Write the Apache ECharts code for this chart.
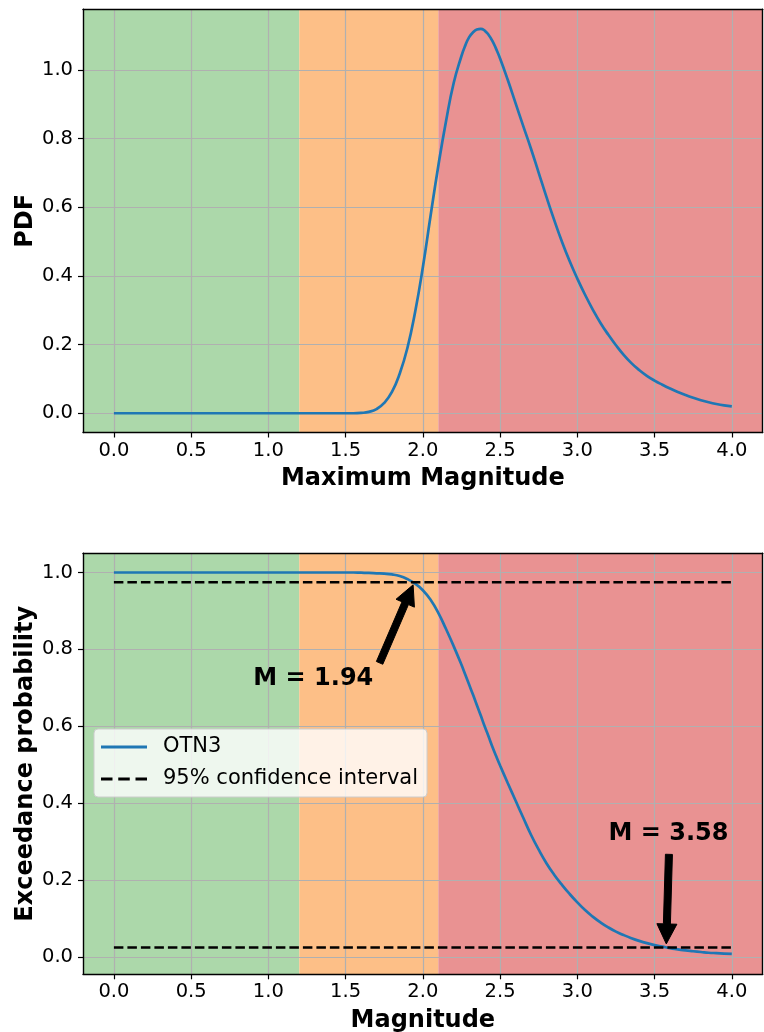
<!DOCTYPE html>
<html><head><meta charset="utf-8">
<script src="https://cdn.jsdelivr.net/npm/echarts@6/dist/echarts.min.js"></script>
<style>html,body{margin:0;padding:0;background:#fff}#c{width:764px;height:1032px}</style>
</head><body><div id="c"></div><script>
// ---- data ----
const magnitudes = [0.00,0.05,0.10,0.15,0.20,0.25,0.30,0.35,0.40,0.45,0.50,0.55,0.60,0.65,0.70,0.75,0.80,0.85,0.90,0.95,
  1.00,1.05,1.10,1.15,1.20,1.25,1.30,1.35,1.40,1.45,1.50,1.55,1.60,1.65,1.70,1.75,1.80,1.85,1.90,1.95,
  2.00,2.05,2.10,2.15,2.20,2.25,2.275,2.30,2.325,2.35,2.375,2.40,2.425,2.45,2.475,2.50,2.55,2.60,2.65,2.70,2.75,2.80,2.85,2.90,2.95,
  3.00,3.05,3.10,3.15,3.20,3.25,3.30,3.35,3.40,3.45,3.50,3.55,3.60,3.65,3.70,3.75,3.80,3.85,3.90,3.95,4.00];
const pdfValues = [0,0,0,0,0,0,0,0,0,0,0,0,0,0,0,0,0,0,0,0,
  0,0,0,0,0,0,0,0,0,0,0,0,0.001,0.004,0.012,0.03,0.062,0.115,0.19,0.295,
  0.425,0.575,0.72,0.85,0.962,1.04,1.071,1.095,1.109,1.117,1.119,1.114,1.102,1.084,1.060,1.033,0.97,0.903,0.836,0.77,0.70,0.63,0.563,0.50,0.443,
  0.392,0.345,0.302,0.263,0.229,0.198,0.170,0.146,0.126,0.109,0.095,0.083,0.072,0.062,0.053,0.045,0.038,0.032,0.027,0.023,0.020];
const exceedanceValues = [1,1,1,1,1,1,1,1,1,1,1,1,1,1,1,1,1,1,1,1,
  1,1,1,1,1,1,1,1,1,1,1,1,0.9995,0.999,0.998,0.997,0.995,0.991,0.983,0.971,
  0.954,0.929,0.895,0.853,0.808,0.76,0.734,0.708,0.682,0.655,0.628,0.600,0.574,0.547,0.522,0.498,0.452,0.407,0.362,0.318,0.279,0.244,0.214,0.188,0.164,
  0.142,0.122,0.105,0.090,0.077,0.066,0.057,0.049,0.042,0.036,0.031,0.027,0.023,0.020,0.017,0.015,0.013,0.011,0.010,0.009,0.008];
const xTicks = [0,0.5,1,1.5,2,2.5,3,3.5,4];
const pdfTicks = [0,0.2,0.4,0.6,0.8,1.0];
const probTicks = [0,0.2,0.4,0.6,0.8,1.0];
const zoneEdges = [-0.2,1.2,2.1,4.2];
const zoneColors = ['#acd8aa','#fdbf87','#e99292'];
const ciLevels = [0.975,0.025];
const ciRange = [0,4];
const annotLabels = ['M = 1.94','M = 3.58'];
const annotPoints = [[1.94,0.975],[3.58,0.025]];

// ---- chart ----
const F = '"DejaVu Sans", sans-serif';
const chart = echarts.init(document.getElementById('c'), null, {renderer:'canvas'});
const pdfData = magnitudes.map((m,i)=>[m,pdfValues[i]]);
const excData = magnitudes.map((m,i)=>[m,exceedanceValues[i]]);
const zones = zoneColors.map((c,i)=>[{xAxis:zoneEdges[i], itemStyle:{color:c, opacity:1}},{xAxis:zoneEdges[i+1]}]);
const XMIN=-0.2, XMAX=4.2;
const Y1=[-0.056,1.176], Y2=[-0.045,1.05];

function mainX(gi,name){return {type:'value',gridIndex:gi,min:XMIN,max:XMAX,name:name,nameLocation:'middle',nameGap:34,nameMoveOverlap:false,
  nameTextStyle:{fontFamily:F,fontWeight:'bold',fontSize:24,color:'#000'},
  axisLine:{show:true,onZero:false,lineStyle:{color:'#000',width:1.4}},
  axisTick:{show:true,length:5,customValues:xTicks,lineStyle:{color:'#000',width:1.2}},
  axisLabel:{customValues:xTicks,formatter:v=>v.toFixed(1),fontFamily:F,fontSize:19.5,color:'#000',margin:8},
  splitLine:{show:true,lineStyle:{color:'#b0b0b0',width:1.2}},z:5};}
function frameX(gi){return {type:'value',gridIndex:gi,min:XMIN,max:XMAX,position:'top',
  axisLine:{show:true,onZero:false,lineStyle:{color:'#000',width:1.4}},axisTick:{show:false},axisLabel:{show:false},splitLine:{show:false},z:5};}
function mainY(gi,name,ext,ticks){return {type:'value',gridIndex:gi,min:ext[0],max:ext[1],name:name,nameLocation:'middle',nameGap:45,nameMoveOverlap:false,
  nameTextStyle:{fontFamily:F,fontWeight:'bold',fontSize:24,color:'#000'},
  axisLine:{show:true,onZero:false,lineStyle:{color:'#000',width:1.4}},
  axisTick:{show:true,length:5,customValues:ticks,lineStyle:{color:'#000',width:1.2}},
  axisLabel:{customValues:ticks,formatter:v=>v.toFixed(1),fontFamily:F,fontSize:19.5,color:'#000',margin:10},
  splitLine:{show:true,lineStyle:{color:'#b0b0b0',width:1.2}},z:5};}
function frameY(gi,ext){return {type:'value',gridIndex:gi,min:ext[0],max:ext[1],position:'right',
  axisLine:{show:true,onZero:false,lineStyle:{color:'#000',width:1.4}},axisTick:{show:false},axisLabel:{show:false},splitLine:{show:false},z:5};}

const option = {
  animation:false,
  backgroundColor:'#fff',
  grid:[
    {left:83,right:1.3,top:9.3,height:423.2,outerBoundsMode:'none'},
    {left:83,right:1.3,top:553.3,height:421,outerBoundsMode:'none'}
  ],
  xAxis:[mainX(0,'Maximum Magnitude'),frameX(0),mainX(1,'Magnitude'),frameX(1)],
  yAxis:[mainY(0,'PDF',Y1,pdfTicks),frameY(0,Y1),mainY(1,'Exceedance probability',Y2,probTicks),frameY(1,Y2)],
  legend:{show:true,orient:'vertical',left:94,top:729,itemWidth:46,itemHeight:14,itemGap:8,
    padding:[6,9,6,7],backgroundColor:'rgba(255,255,255,0.8)',borderColor:'#cccccc',borderWidth:1,borderRadius:4,z:20,
    data:[
      {name:'OTN3',icon:'path://M0,0H46V3H0Z'},
      {name:'95% confidence interval',icon:'path://M0,0H11V2.7H0ZM16.5,0H27.5V2.7H16.5ZM33,0H44V2.7H33Z'}
    ],
    textStyle:{fontFamily:F,fontSize:21,color:'#000',lineHeight:24,padding:[0,0,0,11]}},
  series:[
    {type:'line',name:'zones-top',xAxisIndex:0,yAxisIndex:0,data:[],z:1,silent:true,markArea:{silent:true,data:zones}},
    {type:'line',name:'zones-bottom',xAxisIndex:2,yAxisIndex:2,data:[],z:1,silent:true,markArea:{silent:true,data:zones}},
    {type:'line',name:'OTN3 PDF',xAxisIndex:0,yAxisIndex:0,data:pdfData,symbol:'none',smooth:0.5,z:10,
      lineStyle:{color:'#1f77b4',width:2.7},itemStyle:{color:'#1f77b4'}},
    {type:'line',name:'OTN3',xAxisIndex:2,yAxisIndex:2,data:excData,symbol:'none',smooth:0.5,z:10,
      lineStyle:{color:'#1f77b4',width:2.7},itemStyle:{color:'#1f77b4'}},
    ...ciLevels.map(l=>({type:'line',name:'95% confidence interval',xAxisIndex:2,yAxisIndex:2,
      data:[[ciRange[0],l],[ciRange[1],l]],symbol:'none',z:10,
      lineStyle:{color:'#000',width:2.5,type:[9.5,4]},itemStyle:{color:'#000'}}))
  ]
};
chart.setOption(option);

// ---- annotations (positioned through the chart's own scales) ----
const arrowTails = [[1.72,0.765],[3.593,0.267]];
const arrowTips  = [[1.937,0.968],[3.576,0.034]];
const textPos    = [[1.291,0.723],[3.59,0.321]];
function arrowPoly(t,p){
  const dx=p[0]-t[0], dy=p[1]-t[1], L=Math.hypot(dx,dy), ux=dx/L, uy=dy/L, nx=-uy, ny=ux;
  const hl=20, hw=10, sw=3.5;
  const bx=p[0]-ux*hl, by=p[1]-uy*hl;
  return [[t[0]+nx*sw,t[1]+ny*sw],[bx+nx*sw,by+ny*sw],[bx+nx*hw,by+ny*hw],[p[0],p[1]],
          [bx-nx*hw,by-ny*hw],[bx-nx*sw,by-ny*sw],[t[0]-nx*sw,t[1]-ny*sw]];
}
const gfx=[];
annotLabels.forEach((lab,i)=>{
  const t=chart.convertToPixel({gridIndex:1},arrowTails[i]);
  const p=chart.convertToPixel({gridIndex:1},arrowTips[i]);
  const c=chart.convertToPixel({gridIndex:1},textPos[i]);
  gfx.push({type:'polygon',shape:{points:arrowPoly(t,p)},style:{fill:'#000',stroke:'#000',lineWidth:1},z:30});
  gfx.push({type:'text',x:c[0],y:c[1],style:{text:lab,fill:'#000',font:'bold 24px '+F,align:'center',verticalAlign:'middle'},z:30});
});
chart.setOption({graphic:gfx});
</script></body></html>
